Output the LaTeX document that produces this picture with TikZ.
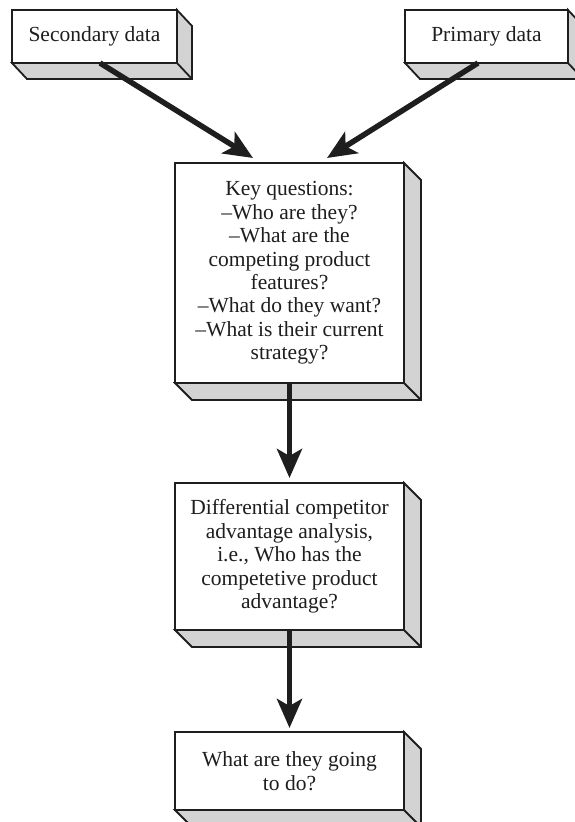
\documentclass[tikz,border=0pt]{standalone}
\usepackage{fontspec}
\setmainfont{Liberation Serif}
\usetikzlibrary{arrows.meta,calc,backgrounds}
\definecolor{ink}{HTML}{1E1E1E}
\definecolor{sidegray}{HTML}{D3D3D3}
\newcommand\boxsides[3]{%
  \begin{scope}[on background layer]
    \filldraw[sideface] (#1.north east) -- ++(#2,#3) -- ($(#1.south east)+(#2,#3)$) -- ($(#1.south west)+(#2,#3)$) -- (#1.south west) -- (#1.south east) -- cycle;
    \draw[sideface] (#1.south east) -- ++(#2,#3);
  \end{scope}}
\tikzset{
  front/.style={draw=ink, line width=1.8pt, fill=white, rectangle, inner sep=0pt, outer sep=0pt,
    align=center, text=ink, font=\fontsize{21.5pt}{23.4pt}\selectfont},
  sideface/.style={draw=ink, fill=sidegray, line width=1.8pt, line join=miter},
  bigarrow/.style={draw=ink, line width=5.5pt, -{Stealth[length=29pt,width=25pt,inset=7pt]}}
}
\begin{document}
\begin{tikzpicture}[x=1pt,y=-1pt]
\useasboundingbox (0,0) rectangle (575,822);
\node[front, minimum width=165pt, minimum height=53pt] (sec) at (94.5,36.5) {Secondary data};
\node[front, minimum width=163pt, minimum height=53pt] (prim) at (486.5,36.5) {Primary data};
\node[front, minimum width=229pt, minimum height=220pt] (key) at (289.5,273) {Key questions:\\–Who are they?\\–What are the\\competing product\\features?\\–What do they want?\\–What is their current\\strategy?};
\node[front, minimum width=229pt, minimum height=147pt] (diff) at (289.5,556.5) {Differential competitor\\advantage analysis,\\i.e., Who has the\\competetive product\\advantage?};
\node[front, minimum width=229pt, minimum height=78pt] (fin) at (289.5,771) {What are they going\\to do?};
\boxsides{sec}{15}{16}
\boxsides{prim}{15}{16}
\boxsides{key}{17}{17}
\boxsides{diff}{17}{17}
\boxsides{fin}{17}{17}
\coordinate (s1) at ($(sec.south west)+(88,0)$);
\coordinate (k1) at ($(key.north west)+(78,-5)$);
\coordinate (p1) at ($(prim.south west)+(73,0)$);
\coordinate (k2) at ($(key.north west)+(152,-5)$);
\draw[bigarrow] (s1) -- (k1);
\draw[bigarrow] (p1) -- (k2);
\draw[bigarrow, shorten >=5pt] (key.south) -- (diff.north);
\draw[bigarrow, shorten >=4pt] (diff.south) -- (fin.north);
\end{tikzpicture}
\end{document}
